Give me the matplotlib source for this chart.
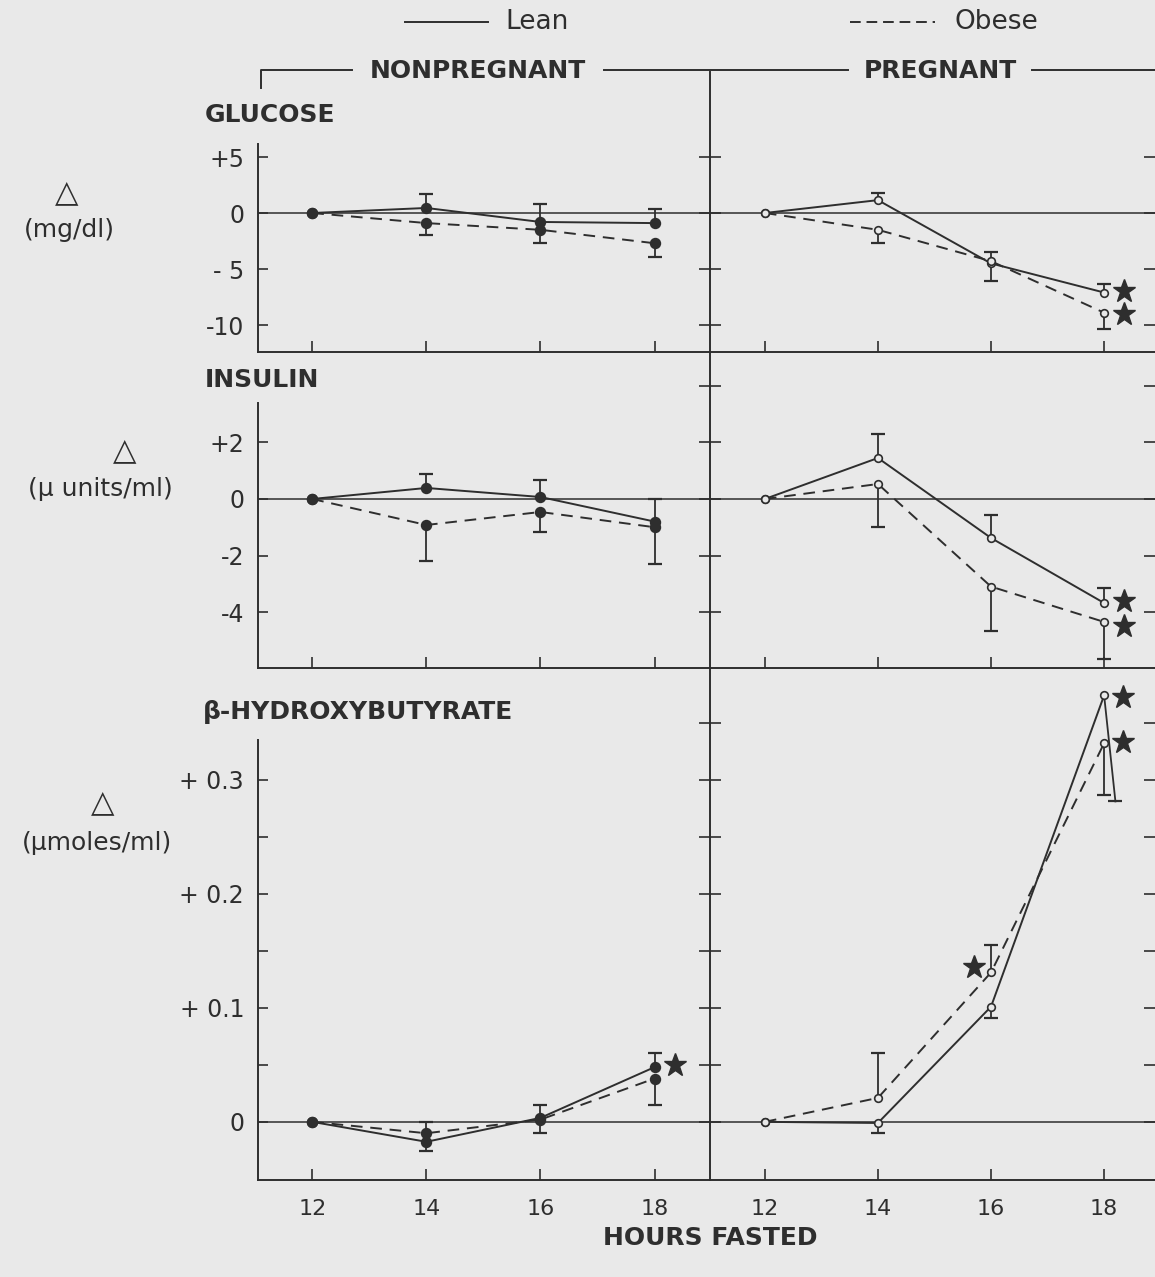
import matplotlib
matplotlib.use('Agg')
import matplotlib.pyplot as plt
from matplotlib.lines import Line2D

plt.rcParams['font.family'] = ['DejaVu Sans']

W, H = 1155, 1277
INK = '#2e2e2e'
BG = '#e9e9e9'

hours = [12, 14, 16, 18]

# errors are signed: positive drawn upward, negative drawn downward
# glucose (mg/dl)
glu_np_lean = [0, 0.45, -0.8, -0.9]
glu_np_lean_err = [0, 1.25, 1.6, 1.3]
glu_np_obese = [0, -0.9, -1.5, -2.7]
glu_np_obese_err = [0, -1.1, -1.2, -1.2]
glu_p_lean = [0, 1.15, -4.5, -7.1]
glu_p_lean_err = [0, 0.65, 1.0, 0.8]
glu_p_obese = [0, -1.5, -4.3, -8.9]
glu_p_obese_err = [0, -1.2, -1.8, -1.5]

# insulin (micro units/ml)
ins_np_lean = [0, 0.39, 0.07, -0.8]
ins_np_lean_err = [0, 0.5, 0.6, 0.8]
ins_np_obese = [0, -0.92, -0.46, -1.0]
ins_np_obese_err = [0, -1.28, -0.7, -1.3]
ins_p_lean = [0, 1.45, -1.38, -3.68]
ins_p_lean_err = [0, 0.85, 0.8, 0.53]
ins_p_obese = [0, 0.53, -3.1, -4.35]
ins_p_obese_err = [0, -1.53, -1.57, -1.3]

# beta-hydroxybutyrate (umoles/ml)
bhb_np_lean = [0, -0.0175, 0.0035, 0.048]
bhb_np_lean_err = [0, -0.008, 0.011, 0.012]
bhb_np_obese = [0, -0.01, 0.002, 0.038]
bhb_np_obese_err = [0, 0.01, -0.012, -0.023]
bhb_p_lean = [0, -0.001, 0.101, 0.374]
bhb_p_lean_err = [0, -0.009, -0.01, -0.093]
bhb_p_lean_err_dx = [0, 0, 0, 0.2]   # last bar printed slanted
bhb_p_obese = [0, 0.021, 0.131, 0.332]
bhb_p_obese_err = [0, 0.039, 0.024, -0.045]

# significance stars
glu_p_star_x = [18.35, 18.35]
glu_p_star_y = [-7.0, -9.0]
ins_p_star_x = [18.35, 18.35]
ins_p_star_y = [-3.6, -4.5]
bhb_np_star_x = [18.35]
bhb_np_star_y = [0.05]
bhb_p_star_x = [15.7, 18.33, 18.33]
bhb_p_star_y = [0.136, 0.373, 0.333]


def px(x, y):
    return x / W, 1 - y / H


fig = plt.figure(figsize=(W / 100, H / 100), dpi=100, facecolor=BG)

rows = [(72, 352), (352, 668), (668, 1180)]
cols = [(258, 710), (710, 1155)]


def make_ax(row, col):
    (top, bot), (l, r) = rows[row], cols[col]
    return fig.add_axes([l / W, 1 - bot / H, (r - l) / W, (bot - top) / H])


def setup(ax, ylim, yticks, col, bottom, labels=None, spine_top=None):
    ax.set_facecolor('none')
    if col == 0:
        ax.set_xlim(11.05, 18.97)
    else:
        ax.set_xlim(11.03, 18.9)
    ax.set_ylim(ylim)
    ax.spines['top'].set_visible(False)
    ax.spines['right'].set_visible(False)
    for s in ax.spines.values():
        s.set_color(INK)
        s.set_linewidth(1.4)
    ax.axhline(0, color=INK, lw=1.1, zorder=1)
    ax.set_xticks(hours)
    ax.tick_params(axis='x', direction='in', length=8, width=1.2, colors=INK,
                   labelsize=16, pad=14, labelbottom=bottom)
    ax.set_yticks(yticks)
    if col == 0:
        ax.spines['left'].set_bounds(ylim[0], spine_top)
        ax.set_yticklabels(labels)
        ax.tick_params(axis='y', direction='in', length=7, width=1.2,
                       colors=INK, labelsize=17, pad=10)
    else:
        ax.tick_params(axis='y', direction='inout', length=16, width=1.2,
                       colors=INK, left=True, right=True,
                       labelleft=False, labelright=False)


def series(ax, y, err, dashed, filled, err_dx=None):
    ls = (0, (6, 4)) if dashed else '-'
    ax.plot(hours, y, ls=ls, color=INK, lw=1.4, marker='o',
            ms=7 if filled else 5.5, mfc=INK if filled else BG, mec=INK,
            mew=1.2, zorder=3)
    for i, (x, v, e) in enumerate(zip(hours, y, err)):
        if e == 0:
            continue
        dx = err_dx[i] if err_dx else 0
        ax.plot([x, x + dx], [v, v + e], color=INK, lw=1.3, zorder=2)
        ax.plot([x + dx], [v + e], marker='_', ms=10, mew=1.6, color=INK)


def stars(ax, xs, ys):
    ax.plot(xs, ys, ls='none', marker='*', ms=17, color=INK, clip_on=False)


# glucose
ax = make_ax(0, 0)
setup(ax, (-12.41, 12.59), [5, 0, -5, -10], 0, False,
      ['+5', '0', '- 5', '-10'], 6.2)
series(ax, glu_np_lean, glu_np_lean_err, False, True)
series(ax, glu_np_obese, glu_np_obese_err, True, True)

ax = make_ax(0, 1)
setup(ax, (-12.41, 12.59), [5, 0, -5, -10], 1, False)
series(ax, glu_p_lean, glu_p_lean_err, False, False)
series(ax, glu_p_obese, glu_p_obese_err, True, False)
stars(ax, glu_p_star_x, glu_p_star_y)

# insulin
ax = make_ax(1, 0)
setup(ax, (-5.98, 5.2), [2, 0, -2, -4], 0, False,
      ['+2', '0', '-2', '-4'], 3.4)
series(ax, ins_np_lean, ins_np_lean_err, False, True)
series(ax, ins_np_obese, ins_np_obese_err, True, True)

ax = make_ax(1, 1)
setup(ax, (-5.98, 5.2), [4, 2, 0, -2, -4], 1, False)
series(ax, ins_p_lean, ins_p_lean_err, False, False)
series(ax, ins_p_obese, ins_p_obese_err, True, False)
stars(ax, ins_p_star_x, ins_p_star_y)

# beta-hydroxybutyrate
bt = [0.3, 0.25, 0.2, 0.15, 0.1, 0.05, 0]
ax = make_ax(2, 0)
setup(ax, (-0.051, 0.398), bt, 0, True,
      ['+ 0.3', '', '+ 0.2', '', '+ 0.1', '', '0'], 0.335)
series(ax, bhb_np_lean, bhb_np_lean_err, False, True)
series(ax, bhb_np_obese, bhb_np_obese_err, True, True)
stars(ax, bhb_np_star_x, bhb_np_star_y)

ax = make_ax(2, 1)
setup(ax, (-0.051, 0.398), bt + [0.35], 1, True)
series(ax, bhb_p_lean, bhb_p_lean_err, False, False, bhb_p_lean_err_dx)
series(ax, bhb_p_obese, bhb_p_obese_err, True, False)
stars(ax, bhb_p_star_x, bhb_p_star_y)


def fline(xs, ys, **kw):
    fx = [x / W for x in xs]
    fy = [1 - y / H for y in ys]
    fig.add_artist(Line2D(fx, fy, color=INK, lw=1.4, **kw))


def ftext(x, y, s, **kw):
    fx, fy = px(x, y)
    kw.setdefault('ha', 'center')
    kw.setdefault('va', 'center')
    kw.setdefault('color', INK)
    fig.text(fx, fy, s, **kw)


# legend
fline([405, 488], [22, 22])
ftext(505, 22, 'Lean', ha='left', fontsize=19)
fline([850, 935], [22, 22], ls=(0, (5.5, 3)))
ftext(955, 22, 'Obese', ha='left', fontsize=19)

# group bracket
fline([261, 261, 352], [88, 70, 70])
ftext(478, 71, 'NONPREGNANT', fontsize=18, fontweight='bold')
fline([604, 848], [70, 70])
ftext(940, 71, 'PREGNANT', fontsize=18, fontweight='bold')
fline([1032, 1155], [70, 70])

# panel titles
ftext(205, 115, 'GLUCOSE', ha='left', fontsize=18, fontweight='bold')
ftext(205, 380, 'INSULIN', ha='left', fontsize=18, fontweight='bold')
ftext(203, 712, 'β-HYDROXYBUTYRATE', ha='left', fontsize=18,
      fontweight='bold')

# y units
ftext(67, 193, '△', fontsize=22)
ftext(69, 230, '(mg/dl)', fontsize=18)
ftext(125, 451, '△', fontsize=22)
ftext(100, 489, '(μ units/ml)', fontsize=18)
ftext(103, 803, '△', fontsize=22)
ftext(97, 843, '(μmoles/ml)', fontsize=18)

ftext(710, 1238, 'HOURS FASTED', fontsize=18, fontweight='bold')

fig.savefig('out.png', dpi=100, facecolor=BG)
